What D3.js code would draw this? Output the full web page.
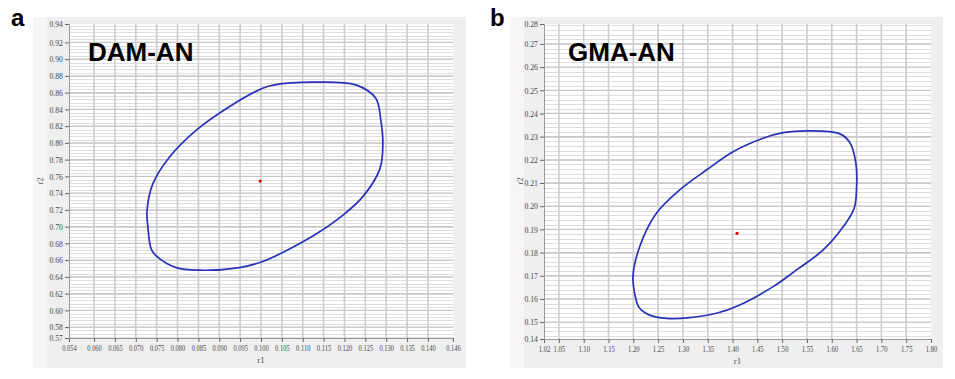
<!DOCTYPE html>
<html>
<head>
<meta charset="utf-8">
<script src="https://cdn.jsdelivr.net/npm/d3@7"></script>
<style>
  body { margin: 0; background: #fff; }
  svg { display: block; }
</style>
</head>
<body>
<div id="chart"></div>
<script>
// panel a : DAM-AN
var aTitle = "DAM-AN";
var aXDomain = [0.054, 0.146];
var aYDomain = [0.567, 0.942];
var aXTicks = [0.054, 0.060, 0.065, 0.070, 0.075, 0.080, 0.085, 0.090, 0.095, 0.100, 0.105, 0.110, 0.115, 0.120, 0.125, 0.130, 0.135, 0.140, 0.146];
var aYTicks = [0.567, 0.58, 0.60, 0.62, 0.64, 0.66, 0.68, 0.70, 0.72, 0.74, 0.76, 0.78, 0.80, 0.82, 0.84, 0.86, 0.88, 0.90, 0.92, 0.942];
var aMinorStep = 0.004;
var aCenter = [0.0998, 0.7544];
var aEllipse = [
  [0.1004, 0.8653], [0.1032, 0.8693], [0.1123, 0.8725], [0.1227, 0.8693], [0.1275, 0.8533],
  [0.1287, 0.8273], [0.1292, 0.7996], [0.1285, 0.7693], [0.1243, 0.7352], [0.1195, 0.7132],
  [0.1132, 0.6912], [0.1060, 0.6712], [0.1004, 0.6583], [0.0948, 0.6511], [0.0853, 0.6480],
  [0.0797, 0.6511], [0.0749, 0.6652], [0.0737, 0.6732], [0.0729, 0.6992], [0.0727, 0.7192],
  [0.0741, 0.7513], [0.0781, 0.7832], [0.0845, 0.8152], [0.0924, 0.8432]
];

// panel b : GMA-AN
var bTitle = "GMA-AN";
var bXDomain = [1.02, 1.80];
var bYDomain = [0.1427, 0.2786];
var bXTicks = [1.02, 1.05, 1.10, 1.15, 1.20, 1.25, 1.30, 1.35, 1.40, 1.45, 1.50, 1.55, 1.60, 1.65, 1.70, 1.75, 1.80];
var bYTicks = [0.1427, 0.15, 0.16, 0.17, 0.18, 0.19, 0.20, 0.21, 0.22, 0.23, 0.24, 0.25, 0.26, 0.27, 0.2786];
var bMinorStep = 0.002;
var bCenter = [1.409, 0.1883];
var bEllipse = [
  [1.5524, 0.2325], [1.6164, 0.2312], [1.6366, 0.2274], [1.6487, 0.2185], [1.6501, 0.2084],
  [1.6452, 0.1991], [1.6230, 0.1911], [1.5827, 0.1811], [1.5290, 0.1725], [1.4818, 0.1653],
  [1.4146, 0.1574], [1.3676, 0.1538], [1.3137, 0.1519], [1.2667, 0.1516], [1.2330, 0.1530],
  [1.2114, 0.1564], [1.2027, 0.1624], [1.1993, 0.1696], [1.2128, 0.1825], [1.2465, 0.1969],
  [1.2935, 0.2070], [1.3474, 0.2156], [1.4011, 0.2235], [1.4616, 0.2293], [1.5020, 0.2317]
];

var width = 955, height = 379;

var svg = d3.select("#chart").append("svg")
    .attr("width", width)
    .attr("height", height);

function drawPanel(p) {
  var g = svg.append("g");

  // grey frame of the graph
  g.append("rect")
      .attr("x", p.frame[0]).attr("y", p.frame[1])
      .attr("width", p.frame[2]).attr("height", p.frame[3])
      .attr("fill", "#efefef");
  g.append("rect")
      .attr("x", p.frame[0]).attr("y", p.frame[1])
      .attr("width", 14).attr("height", p.frame[3])
      .attr("fill", "#f6f6f6");

  var x = d3.scaleLinear().domain(p.xDomain).range([p.plot[0], p.plot[1]]);
  var y = d3.scaleLinear().domain(p.yDomain).range([p.plot[3], p.plot[2]]);

  g.append("rect")
      .attr("x", p.plot[0]).attr("y", p.plot[2])
      .attr("width", p.plot[1] - p.plot[0])
      .attr("height", p.plot[3] - p.plot[2])
      .attr("fill", "#fff");

  // minor horizontal grid
  var minor = d3.range(Math.ceil(p.yDomain[0] / p.minorStep) * p.minorStep, p.yDomain[1], p.minorStep);
  g.append("g").selectAll("line")
      .data(minor)
      .enter().append("line")
      .attr("x1", p.plot[0]).attr("x2", p.plot[1])
      .attr("y1", function(d) { return Math.round(y(d)) + 0.5; })
      .attr("y2", function(d) { return Math.round(y(d)) + 0.5; })
      .attr("stroke", "#dedede")
      .attr("stroke-width", 1);

  var inner = function(t) { return t.slice(1, t.length - 1); };

  // major grid
  g.append("g").selectAll("line")
      .data(inner(p.yTicks))
      .enter().append("line")
      .attr("x1", p.plot[0]).attr("x2", p.plot[1])
      .attr("y1", function(d) { return y(d); })
      .attr("y2", function(d) { return y(d); })
      .attr("stroke", "#c6c6c6")
      .attr("stroke-width", 1.3);

  g.append("g").selectAll("line")
      .data(inner(p.xTicks))
      .enter().append("line")
      .attr("y1", p.plot[2]).attr("y2", p.plot[3])
      .attr("x1", function(d) { return x(d); })
      .attr("x2", function(d) { return x(d); })
      .attr("stroke", "#cdcdcd")
      .attr("stroke-width", 1.6);

  // axes
  var xAxis = g.append("g")
      .attr("transform", "translate(0," + p.plot[3] + ")")
      .call(d3.axisBottom(x).tickValues(p.xTicks).tickFormat(d3.format(p.xFormat)).tickSize(4).tickPadding(3));
  var yAxis = g.append("g")
      .attr("transform", "translate(" + p.plot[0] + ",0)")
      .call(d3.axisLeft(y).tickValues(p.yTicks).tickFormat(d3.format(".2f")).tickSize(4).tickPadding(2));

  [[xAxis, 2.9], [yAxis, 3.4]].forEach(function(a) {
    var ax = a[0], w = a[1];
    ax.select(".domain").attr("stroke", "#9a9a9a");
    ax.selectAll(".tick line").attr("stroke", "#666");
    ax.selectAll(".tick text")
        .attr("fill", "#4a4a4a")
        .attr("font-family", "Liberation Serif, serif")
        .attr("font-size", 8.5)
        .attr("lengthAdjust", "spacingAndGlyphs")
        .attr("textLength", function() { return this.textContent.length * w; });
  });

  // axis names
  g.append("text")
      .attr("x", (p.plot[0] + p.plot[1]) / 2)
      .attr("y", p.plot[3] + 25)
      .attr("text-anchor", "middle")
      .attr("font-family", "Liberation Serif, serif")
      .attr("font-size", 9)
      .attr("fill", "#555")
      .text("r1");
  g.append("text")
      .attr("transform", "translate(" + p.yName[0] + "," + p.yName[1] + ") rotate(-90)")
      .attr("text-anchor", "middle")
      .attr("font-family", "Liberation Serif, serif")
      .attr("font-size", 9)
      .attr("fill", "#555")
      .text("r2");

  // confidence ellipse
  var line = d3.line()
      .x(function(d) { return x(d[0]); })
      .y(function(d) { return y(d[1]); })
      .curve(d3.curveCatmullRomClosed.alpha(0.5));

  g.append("path")
      .datum(p.ellipse)
      .attr("d", line)
      .attr("fill", "none")
      .attr("stroke", "#2a32b8")
      .attr("stroke-width", 1.7);

  g.append("circle")
      .attr("cx", x(p.center[0]))
      .attr("cy", y(p.center[1]))
      .attr("r", 1.6)
      .attr("fill", "#e00000");

  // titles
  g.append("text")
      .attr("x", p.titlePos[0]).attr("y", p.titlePos[1])
      .attr("font-family", "Liberation Sans, Arial, sans-serif")
      .attr("font-weight", "bold")
      .attr("font-size", 26)
      .attr("fill", "#000")
      .text(p.title);

  svg.append("text")
      .attr("x", p.letterPos[0]).attr("y", p.letterPos[1])
      .attr("font-family", "Liberation Sans, Arial, sans-serif")
      .attr("font-weight", "bold")
      .attr("font-size", 24)
      .attr("fill", "#000")
      .text(p.letter);
}

drawPanel({
  letter: "a", letterPos: [11, 26],
  title: aTitle, titlePos: [88, 61],
  frame: [33, 17, 433, 351],
  plot: [69, 453, 24, 338],
  xDomain: aXDomain, yDomain: aYDomain,
  xTicks: aXTicks, yTicks: aYTicks, xFormat: ".3f",
  minorStep: aMinorStep,
  yName: [43, 181],
  ellipse: aEllipse, center: aCenter
});

drawPanel({
  letter: "b", letterPos: [490, 26],
  title: bTitle, titlePos: [568, 61],
  frame: [510, 17, 433, 351],
  plot: [544, 931, 24, 339],
  xDomain: bXDomain, yDomain: bYDomain,
  xTicks: bXTicks, yTicks: bYTicks, xFormat: ".2f",
  minorStep: bMinorStep,
  yName: [523, 181],
  ellipse: bEllipse, center: bCenter
});
</script>
</body>
</html>
